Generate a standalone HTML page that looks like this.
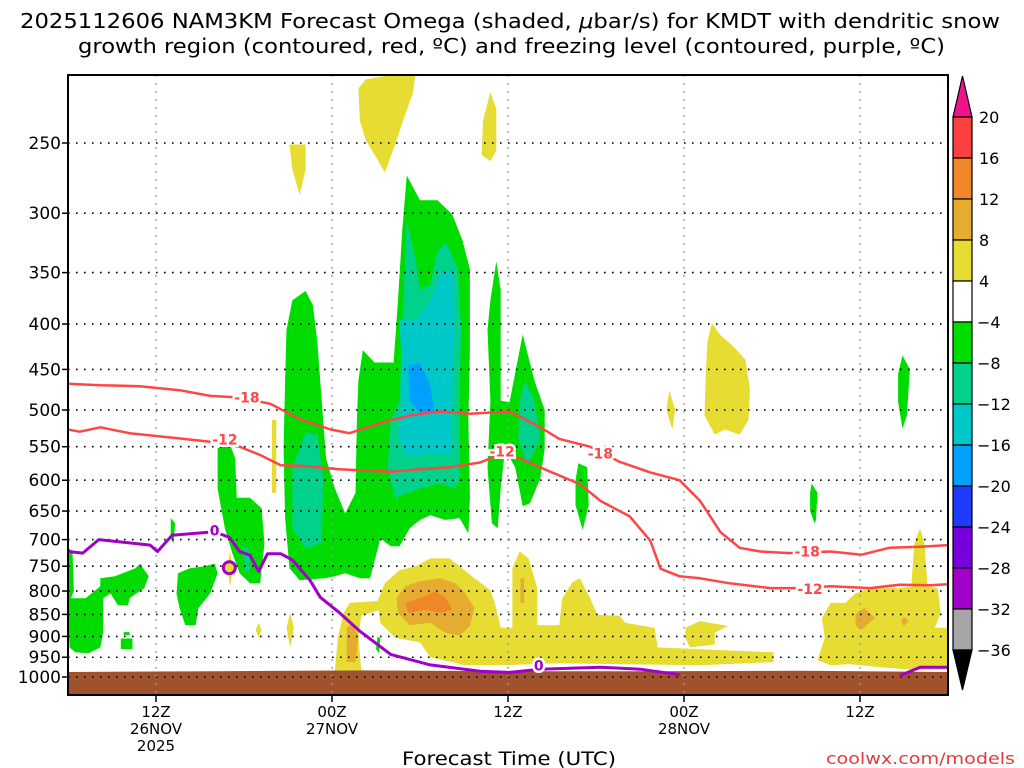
<!DOCTYPE html>
<html><head><meta charset="utf-8">
<style>
html,body{margin:0;padding:0;background:#fff;}
svg{display:block;font-family:"DejaVu Sans","Liberation Sans",sans-serif;}
</style></head>
<body>
<svg id="chart" width="1024" height="768" viewBox="0 0 1024 768" xmlns="http://www.w3.org/2000/svg">
<text x="20" y="28" font-size="20" textLength="980" lengthAdjust="spacingAndGlyphs">2025112606 NAM3KM Forecast Omega (shaded, <tspan font-style="italic">μ</tspan>bar/s) for KMDT with dendritic snow</text>
<text x="78" y="53" font-size="20" textLength="867" lengthAdjust="spacingAndGlyphs">growth region (contoured, red, ºC) and freezing level (contoured, purple, ºC)</text>
<g id="plot"></g>
<g id="cbar"></g>
<text x="402" y="765" font-size="19" textLength="214" lengthAdjust="spacingAndGlyphs">Forecast Time (UTC)</text>
<text x="826" y="764" font-size="16" fill="#e03c3c" textLength="189" lengthAdjust="spacingAndGlyphs">coolwx.com/models</text>
</svg>
<script>
// ---------- data ----------
const pTicks=[250,300,350,400,450,500,550,600,650,700,750,800,850,900,950,1000];
const xTickHours=[6,18,30,42,54];
const xTickLabels=[["12Z","26NOV","2025"],["00Z","27NOV"],["12Z"],["00Z","28NOV"],["12Z"]];
const cbarLevels=[20,16,12,8,4,-4,-8,-12,-16,-20,-24,-28,-32,-36];
const cbarColors=["#ff4040","#f0882a","#e6ac30","#e6dc32","#ffffff","#00dc00","#00d28c","#00c8c8","#00a0ff","#1e3cff","#7800dc","#a000c8","#a6a6a6"];

const greenCentral=[[14.9,406],[15.3,376],[16.2,367],[16.7,381],[17,418],[17.3,488],[17.6,567],[18.2,613],[18.9,654],[19.6,620],[19.7,513],[19.8,463],[20.1,428],[20.9,442],[22.2,442],[22.5,376],[22.8,312],[23.1,272],[24,290],[25.2,290],[26.2,301],[26.9,322],[27.4,347],[27.4,428],[27.3,513],[27.4,628],[27.3,689],[26.7,662],[25.7,665],[24.7,657],[24,665],[23.3,680],[22.6,712],[22,712],[21.3,698],[20.6,774],[19.9,774],[18.9,764],[18.2,770],[17.5,774],[15.8,778],[15.1,754],[14.8,662],[14.7,553],[14.8,463]];
const tealCentral=[[23.1,305],[23.7,338],[24,366],[24.7,361],[25.2,330],[25.8,324],[26.6,347],[26.8,406],[26.7,488],[26.7,597],[26.4,613],[25.4,605],[24,613],[22.3,628],[21.8,581],[22,513],[22.6,488],[22.8,396],[23,338]];
const cyanCentral=[[22.6,396],[23.8,396],[24.7,376],[25.4,352],[26.2,347],[26.4,406],[26.2,488],[26.2,560],[24.7,560],[23,564],[22.6,539],[22.8,463]];
const blueCentral=[[23.2,445],[24,443],[24.7,469],[25,504],[24,504],[23.3,488]];
const tealLeft=[[16.2,530],[17,533],[17.4,597],[17.3,707],[16.2,716],[15.3,680],[15.3,581]];
const greenRight=[[28.8,376],[29.2,340],[29.5,366],[29.5,488],[30.1,490],[31,411],[31.8,463],[32.5,500],[32.5,553],[32.2,597],[31.5,637],[31,642],[30.5,581],[29.8,553],[29.5,613],[29.3,680],[28.9,671],[28.6,581],[28.8,488],[28.6,406]];
const tealRight=[[31.2,463],[31.8,488],[32.2,539],[31.3,577],[30.7,539],[30.8,488]];
const greenLeftSmall=[[10.2,553],[10.9,539],[11.4,567],[11.5,628],[12.4,628],[13.2,645],[13.4,707],[13.1,784],[12.4,784],[11.7,764],[11.2,725],[10.7,680],[10.2,613]];
const tealLeftSmall=[[11.9,712],[12.3,716],[12.4,760],[12.1,760]];
const greenBottomLeft=[[0.2,815],[1.2,815],[2.2,790],[2.2,774],[3.2,770],[4.6,754],[4.9,745],[5.5,770],[5.2,794],[4.2,815],[4.1,830],[3.4,830],[2.9,805],[2.4,815],[2.4,891],[2.2,926],[1.4,940],[0.5,938],[0.1,926],[0,858],[0,716],[0.3,720],[0.4,800]];
const greenDotA=[[3.6,905],[4.4,905],[4.4,930],[3.6,930]];
const greenDotB=[[3.8,890],[4.2,890],[4.2,897],[3.8,897]];
const greenMid=[[7.5,764],[8.3,754],[9.3,750],[10,745],[10.2,764],[9.7,805],[8.9,836],[8.7,874],[8,874],[7.6,836],[7.4,805]];
const greenSpike1=[[7,662],[7.3,671],[7.2,707],[7,698]];
const greenSpike2=[[34.8,574],[35.4,580],[35.5,640],[35.1,683],[34.6,640],[34.6,600]];
const greenSpike3=[[50.7,605],[51.1,620],[51,665],[50.9,671],[50.6,650],[50.6,620]];
const greenSpike4=[[56.9,434],[57.4,450],[57.2,507],[56.9,525],[56.6,490],[56.6,455]];
const greenTiny=[[21.1,900],[21.3,905],[21.2,940],[21,930]];

const yellowTop=[[19.8,217],[20.3,212],[22.3,209],[23.7,209],[23.5,220],[23,232],[22.3,251],[21.6,270],[21.1,261],[20.3,248],[19.9,236]];
const yellowTop2=[[28.8,219],[29.2,229],[29.2,255],[28.8,262],[28.2,258],[28.3,236]];
const yellowTop3=[[15.1,251],[16.2,251],[16.2,268],[15.8,286],[15.3,268]];
const yellowSliver=[[13.9,513],[14.2,513],[14.2,620],[13.9,620]];
const yellowRightUpper=[[43.9,399],[44.5,412],[45.3,423],[46.2,439],[46.5,475],[46.4,513],[45.8,533],[44.8,526],[44.1,533],[43.4,507],[43.5,450],[43.6,418]];
const yellowSmall=[[41,475],[41.4,500],[41.2,526],[40.8,500]];
const yellowSpikeLeft=[[18.2,983],[18.4,903],[18.8,847],[19.2,825],[21.1,821],[21.3,840],[20,853],[19.8,903],[20,983]];
const yellowMain=[[21.1,821],[21.6,784],[22.6,758],[23.7,750],[24.7,735],[26,735],[26.7,750],[27.7,774],[28.8,798],[29.1,825],[29.5,880],[30.3,880],[30.3,754],[30.8,722],[31.4,735],[32,794],[32,874],[33.5,874],[33.7,815],[34.4,782],[34.9,774],[35.6,815],[36.1,851],[37.6,853],[38,869],[40,880],[40.2,926],[48.1,938],[48.1,962],[43.1,970],[33.5,965],[29.5,970],[27.1,970],[24.7,950],[24,914],[22.3,903],[21.3,869]];
const yellowMain2=[[42.1,880],[43.1,865],[45,876],[44.1,891],[44.1,919],[42.4,926],[42.1,903]];
const yellowRightLower=[[51.1,957],[51.6,903],[51.4,858],[52,825],[53,825],[53.7,805],[54.7,794],[56.7,794],[57.5,790],[57.7,707],[58.1,680],[58.4,707],[58.6,790],[59.3,794],[59.5,847],[59.1,880],[60,880],[60,980],[58.1,983],[55.4,975],[53.3,967],[52,970]];
const yellowDot1=[[12.8,885],[13,869],[13.2,885],[13,903]];
const yellowDot2=[[14.9,880],[15.15,847],[15.4,880],[15.15,926]];
const yellowDot3=[[10.85,755],[11.05,722],[11.25,755],[11.05,790]];
const goldMain=[[22.4,815],[23,790],[24,780],[25.4,774],[26.4,784],[27.1,805],[27.7,836],[27.4,876],[26.7,898],[25.7,891],[24.7,869],[23.3,874],[22.5,847]];
const goldSpike=[[19,880],[19.4,869],[19.8,903],[19.6,962],[19,962]];
const goldSliver=[[30.85,774],[31.1,774],[31.1,825],[30.85,825]];
const goldRight=[[53.7,849],[54.3,836],[55,858],[54.1,885],[53.7,876]];
const goldDot=[[57,855],[57.3,865],[57,877],[56.8,865]];
const orangeMain=[[23,825],[24,815],[25,801],[25.7,812],[26.2,840],[25.4,847],[24.3,840],[23.2,847]];

const surfaceTopP=[[0,987],[10,985],[20,983],[30,985],[40,985],[50,984],[60,987]];

const lineMinus18=[[0,467],[2.2,469],[4.9,470],[7.6,475],[9.7,482],[11.7,484],[13.8,492],[15.8,512],[17.9,526],[19.2,531],[21.3,517],[23.3,507],[25.4,502],[27.4,505],[30.1,502],[32.2,523],[33.5,539],[35.6,550],[37.6,572],[39.7,588],[41.7,600],[43.1,633],[44.5,687],[45.8,715],[47.2,722],[49.2,725],[52,722],[54.1,728],[56,715],[58.1,713],[60,710]];
const lineMinus12=[[0,526],[0.8,529],[2.2,523],[4.2,531],[7,537],[9.7,543],[11.7,550],[13.1,562],[14.5,577],[15.8,578],[18.5,583],[22,587],[24,583],[26,580],[28.1,573],[29.5,561],[30.8,567],[32.9,587],[34.9,606],[36.3,633],[38.3,659],[39.7,702],[40.4,755],[41.7,770],[43.1,774],[45.1,784],[47.9,794],[49.9,794],[52,790],[54.7,794],[56.7,787],[58.8,788],[60,786]];
const lineFreeze1=[[0,722],[1,725],[2.1,700],[5.6,710],[6.1,722],[7.1,692],[10,686],[11,696],[11.7,722],[12.4,729],[13,760],[13.6,726],[14.5,726],[15.3,738],[16.5,778],[17.2,813],[18.5,846],[19.9,888],[22,943],[24.7,969],[28.1,985],[30.1,988],[32.2,980],[36.3,975],[39,980],[41.7,994]];
const lineFreeze2=[[56.7,997],[58.1,975],[60,975]];
const labelsMinus18=[[12.2,484],[36.3,560],[50.4,722]];
const labelsMinus12=[[10.7,540],[29.6,557],[50.6,796]];
const labelsFreeze=[[10,684],[32.1,970]];
const freezeLoop=[11,753];

// ---------- axes ----------
const X0=68,X1=948,Y0=75,Y1=695,H0=0,H1=60;
const yRef=143, pRef=250, pxPerLn=385.2;
function xs(h){return X0+(h-H0)/(H1-H0)*(X1-X0);}
function ys(p){return yRef+Math.log(p/pRef)*pxPerLn;}
const NS="http://www.w3.org/2000/svg";
function mk(tag,attrs,parent){const e=document.createElementNS(NS,tag);for(const k in attrs)e.setAttribute(k,attrs[k]);parent.appendChild(e);return e;}
const plot=document.getElementById('plot');
const cbar=document.getElementById('cbar');
const defs=mk('defs',{},plot);
const cp=mk('clipPath',{id:'clip'},defs);
mk('rect',{x:X0,y:Y0,width:X1-X0,height:Y1-Y0},cp);
const inner=mk('g',{'clip-path':'url(#clip)'},plot);



function ptsStr(arr){return arr.map(d=>xs(d[0]).toFixed(1)+','+ys(d[1]).toFixed(1)).join(' ');}
function poly(arr,fill,name){
  const e=mk('polygon',{points:ptsStr(arr),fill:fill},inner);
  
  
  return e;
}
const C={y:"#e6dc32",g8:"#e6ac30",o:"#f0882a",gr:"#00dc00",te:"#00d28c",cy:"#00c8c8",bl:"#00a0ff"};
[[yellowTop,'yellow-region-top'],[yellowTop2,'yellow-region-top2'],[yellowTop3,'yellow-region-top3'],[yellowSliver,'yellow-sliver'],[yellowRightUpper,'yellow-region-right-upper'],[yellowSmall,'yellow-region-small'],[yellowSpikeLeft,'yellow-region-spike'],[yellowMain,'yellow-region-main'],[yellowMain2,'yellow-region-main2'],[yellowRightLower,'yellow-region-right-lower'],[yellowDot1,'yellow-dot'],[yellowDot2,'yellow-dot'],[yellowDot3,'yellow-dot']].forEach(a=>poly(a[0],C.y,a[1]));
[[goldMain,'gold-region-main'],[goldSpike,'gold-region-spike'],[goldSliver,'gold-sliver'],[goldRight,'gold-region-right'],[goldDot,'gold-dot']].forEach(a=>poly(a[0],C.g8,a[1]));
poly(orangeMain,C.o,'orange-region-main');
[[greenCentral,'green-region-central'],[greenRight,'green-region-right'],[greenLeftSmall,'green-region-left-small'],[greenBottomLeft,'green-region-bottom-left'],[greenDotA,'green-dot'],[greenDotB,'green-dot'],[greenMid,'green-region-mid'],[greenSpike1,'green-spike'],[greenSpike2,'green-spike'],[greenSpike3,'green-spike'],[greenSpike4,'green-spike'],[greenTiny,'green-spike']].forEach(a=>poly(a[0],C.gr,a[1]));
[[tealCentral,'teal-region-central'],[tealLeft,'teal-region-left'],[tealRight,'teal-region-right'],[tealLeftSmall,'teal-region-left-small']].forEach(a=>poly(a[0],C.te,a[1]));
poly(cyanCentral,C.cy,'cyan-region-central');
poly(blueCentral,C.bl,'blue-region-central');

{
  const pts=ptsStr(surfaceTopP)+' '+X1+','+Y1+' '+X0+','+Y1;
  const e=mk('polygon',{points:pts,fill:'#a0522d'},inner);
  
  
}

pTicks.forEach(p=>{
  const e=mk('line',{x1:X0,x2:X1,y1:ys(p),y2:ys(p),stroke:'#000','stroke-width':1.6,'stroke-dasharray':'1.6 6.4'},inner);
  
  
});
xTickHours.forEach(h=>{
  const e=mk('line',{x1:xs(h),x2:xs(h),y1:Y0,y2:Y1,stroke:'#999','stroke-width':1.6,'stroke-dasharray':'1.6 6.4'},inner);
  
  
});

function pline(arr,color,w,name){
  const e=mk('polyline',{points:ptsStr(arr),fill:'none',stroke:color,'stroke-width':w,'stroke-linejoin':'round'},inner);
  
  
}
pline(lineMinus18,'#ff4646',2.5,'contour-minus18');
pline(lineMinus12,'#ff4646',2.5,'contour-minus12');
pline(lineFreeze1,'#a000c8',3,'freezing-level-line');
pline(lineFreeze2,'#a000c8',3,'freezing-level-line-2');
{
  const e=mk('circle',{cx:xs(freezeLoop[0]),cy:ys(freezeLoop[1]),r:6,fill:C.y,stroke:'#a000c8','stroke-width':3},inner);
  
  
}
function clabel(arr,txt,color,name){
  arr.forEach(d=>{
    const e=mk('text',{x:xs(d[0]),y:ys(d[1])+5,'text-anchor':'middle','font-size':14,'font-weight':'bold',fill:color,stroke:'#fff','stroke-width':5,'paint-order':'stroke'},inner);
    e.textContent=txt;
    
    
  });
}
clabel(labelsMinus18,'-18','#ff4646','contour-label-minus18');
clabel(labelsMinus12,'-12','#ff4646','contour-label-minus12');
clabel(labelsFreeze,'0','#a000c8','contour-label-freezing');

{
  const e=mk('rect',{x:X0,y:Y0,width:X1-X0,height:Y1-Y0,fill:'none',stroke:'#000','stroke-width':2},plot);
  
  
}
pTicks.forEach(p=>{
  const y=ys(p);
  mk('line',{x1:X0-6,x2:X0,y1:y,y2:y,stroke:'#000','stroke-width':1.5},plot);
  const t=mk('text',{x:61,y:y+6,'text-anchor':'end','font-size':17},plot);
  t.textContent=String(p);
  
  
});
xTickHours.forEach((h,i)=>{
  const x=xs(h);
  mk('line',{x1:x,x2:x,y1:Y1,y2:Y1+7,stroke:'#000','stroke-width':1.5},plot);
  xTickLabels[i].forEach((s,j)=>{
    const t=mk('text',{x:x,y:717+j*17,'text-anchor':'middle','font-size':15},plot);
    t.textContent=s;
    
    
  });
});

{
  const cx0=953,cx1=972,top=117,seg=41;
  const tri=mk('polygon',{points:`${cx0},${top} ${cx1},${top} ${(cx0+cx1)/2},76`,fill:'#f0148c',stroke:'#000','stroke-width':1.2},cbar);
  
  
  cbarColors.forEach((c,i)=>{
    const r=mk('rect',{x:cx0,y:top+i*seg,width:cx1-cx0,height:seg,fill:c,stroke:'#000','stroke-width':1.2},cbar);
    
    
  });
  const bot=top+cbarColors.length*seg;
  const tri2=mk('polygon',{points:`${cx0},${bot} ${cx1},${bot} ${(cx0+cx1)/2},${bot+40}`,fill:'#000',stroke:'#000','stroke-width':1.2},cbar);
  
  
  cbarLevels.forEach((v,i)=>{
    const t=mk('text',{x:v<0?977:979,y:top+i*seg+6,'font-size':16},cbar);
    t.textContent=v<0?'−'+Math.abs(v):String(v);
    
    
  });
}
</script>
</body></html>
